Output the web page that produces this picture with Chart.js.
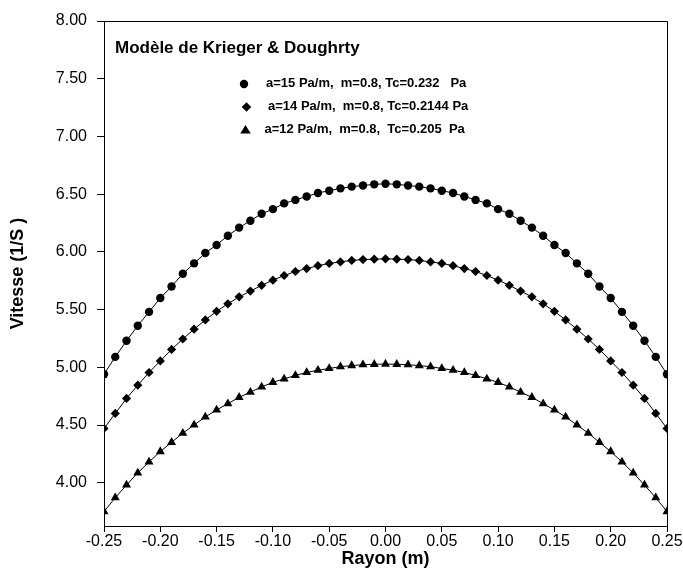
<!DOCTYPE html>
<html><head><meta charset="utf-8">
<script src="https://cdn.jsdelivr.net/npm/chart.js@4.4.1/dist/chart.umd.min.js"></script>
<style>html,body{margin:0;padding:0;background:#fff}</style>
</head><body>
<div style="width:683px;height:570px"><canvas id="c" width="683" height="570"></canvas></div>
<script>
const radius = [-0.25,-0.24,-0.23,-0.22,-0.21,-0.20,-0.19,-0.18,-0.17,-0.16,-0.15,-0.14,-0.13,-0.12,-0.11,-0.10,-0.09,-0.08,-0.07,-0.06,-0.05,-0.04,-0.03,-0.02,-0.01,0.00,
  0.01,0.02,0.03,0.04,0.05,0.06,0.07,0.08,0.09,0.10,0.11,0.12,0.13,0.14,0.15,0.16,0.17,0.18,0.19,0.20,0.21,0.22,0.23,0.24,0.25];
const vitesseA15 = [4.94,5.09,5.23,5.36,5.48,5.60,5.70,5.81,5.90,5.99,6.06,6.14,6.21,6.27,6.33,6.37,6.42,6.45,6.48,6.51,6.53,6.55,6.565,6.575,6.585,6.59,
  6.585,6.575,6.565,6.55,6.53,6.51,6.48,6.45,6.42,6.37,6.33,6.27,6.21,6.14,6.06,5.99,5.90,5.81,5.70,5.60,5.48,5.36,5.23,5.09,4.94];
const vitesseA14 = [4.47,4.60,4.73,4.845,4.955,5.055,5.155,5.245,5.33,5.41,5.485,5.55,5.61,5.66,5.71,5.755,5.795,5.83,5.855,5.88,5.90,5.913,5.926,5.933,5.937,5.94,
  5.937,5.933,5.926,5.913,5.90,5.88,5.855,5.83,5.795,5.755,5.71,5.66,5.61,5.55,5.485,5.41,5.33,5.245,5.155,5.055,4.955,4.845,4.73,4.60,4.47];
const vitesseA12 = [3.75,3.87,3.98,4.085,4.18,4.27,4.35,4.43,4.50,4.57,4.63,4.685,4.74,4.785,4.83,4.87,4.90,4.93,4.955,4.975,4.99,5.005,5.015,5.022,5.026,5.028,
  5.026,5.022,5.015,5.005,4.99,4.975,4.955,4.93,4.90,4.87,4.83,4.785,4.74,4.685,4.63,4.57,4.50,4.43,4.35,4.27,4.18,4.085,3.98,3.87,3.75];
const xTicks = [-0.25,-0.20,-0.15,-0.10,-0.05,0.00,0.05,0.10,0.15,0.20,0.25];
const yTicks = [4.00,4.50,5.00,5.50,6.00,6.50,7.00,7.50,8.00];
const seriesLabels = ['a=15 Pa/m,  m=0.8, Tc=0.232   Pa','a=14 Pa/m,  m=0.8, Tc=0.2144 Pa','a=12 Pa/m,  m=0.8,  Tc=0.205  Pa'];
const chartTitle = 'Modèle de Krieger & Doughrty';

const FONT = '"Liberation Sans", Arial, sans-serif';
function pts(ys){ return radius.map((x,i)=>({x:x,y:ys[i]})); }
function ds(label, ys, style, r){
  return {label, data: pts(ys), showLine:true, borderColor:'#000', borderWidth:1,
    backgroundColor:'#000', pointBackgroundColor:'#000', pointBorderColor:'#000', pointBorderWidth:0,
    pointStyle: style, pointRadius: r, tension:0};
}
const overlay = {
  id:'overlay',
  afterDraw(chart){
    const ctx = chart.ctx, a = chart.chartArea;
    ctx.save();
    ctx.strokeStyle='#000'; ctx.lineWidth=1;
    ctx.beginPath();
    ctx.moveTo(Math.round(a.left)+0.5, Math.round(a.top)+0.5);
    ctx.lineTo(Math.round(a.right)+0.5, Math.round(a.top)+0.5);
    ctx.lineTo(Math.round(a.right)+0.5, Math.round(a.bottom)+0.5);
    ctx.stroke();
    ctx.fillStyle='#000';
    ctx.textBaseline='middle'; ctx.textAlign='left';
    ctx.font='bold 17px '+FONT;
    ctx.fillText(chartTitle, 115, 48);
    ctx.font='bold 13px '+FONT;
    const rows=[{y:83,tx:266,mx:244,s:'circle'},{y:106,tx:268,mx:246.5,s:'diamond'},{y:129,tx:264.5,mx:245.5,s:'triangle'}];
    rows.forEach((r,i)=>{
      ctx.beginPath();
      if(r.s==='circle'){ ctx.arc(r.mx,r.y+1,4.2,0,Math.PI*2); }
      else if(r.s==='diamond'){ const d=4.8; ctx.moveTo(r.mx,r.y+1-d); ctx.lineTo(r.mx+d,r.y+1); ctx.lineTo(r.mx,r.y+1+d); ctx.lineTo(r.mx-d,r.y+1); ctx.closePath(); }
      else { const d=5.5; ctx.moveTo(r.mx,r.y-d+1.5); ctx.lineTo(r.mx+d*0.95,r.y+d*0.55+1.5); ctx.lineTo(r.mx-d*0.95,r.y+d*0.55+1.5); ctx.closePath(); }
      ctx.fill();
      ctx.fillText(seriesLabels[i], r.tx, r.y);
    });
    ctx.restore();
  }
};
new Chart(document.getElementById('c'), {
  type:'scatter',
  data:{ datasets:[ ds(seriesLabels[0], vitesseA15, 'circle', 4.2), ds(seriesLabels[1], vitesseA14, 'rectRot', 4.6), ds(seriesLabels[2], vitesseA12, 'triangle', 5.2) ] },
  options:{
    responsive:false, animation:false, devicePixelRatio:1,
    layout:{ padding:{ top:21, right:16, left:0, bottom:0 } },
    plugins:{ legend:{display:false}, title:{display:false}, tooltip:{enabled:false} },
    scales:{
      x:{ type:'linear', min:-0.25, max:0.25,
        afterBuildTicks: s => { s.ticks = xTicks.map(v=>({value:v})); },
        afterFit: s => { s.height = 44; },
        ticks:{ color:'#000', font:{family:FONT, size:16}, padding:0, maxRotation:0, autoSkip:false, callback: v => Number(v).toFixed(2) },
        grid:{ drawOnChartArea:false, tickLength:6, color:'#000', tickColor:'#000' },
        border:{ color:'#000', width:1 },
        title:{ display:true, text:'Rayon (m)', color:'#000', font:{family:FONT, size:18, weight:'bold'}, padding:{top:0,bottom:0} }
      },
      y:{ type:'linear', min:3.625, max:8,
        afterBuildTicks: s => { s.ticks = yTicks.map(v=>({value:v})); },
        afterFit: s => { s.width = 104; },
        ticks:{ color:'#000', font:{family:FONT, size:16}, padding:10, callback: v => Number(v).toFixed(2) },
        grid:{ drawOnChartArea:false, tickLength:7, color:'#000', tickColor:'#000' },
        border:{ color:'#000', width:1 },
        title:{ display:true, text:'Vitesse (1/S )', color:'#000', font:{family:FONT, size:18, weight:'bold'}, padding:{top:7,bottom:0} }
      }
    }
  },
  plugins:[overlay]
});
</script>
</body></html>
